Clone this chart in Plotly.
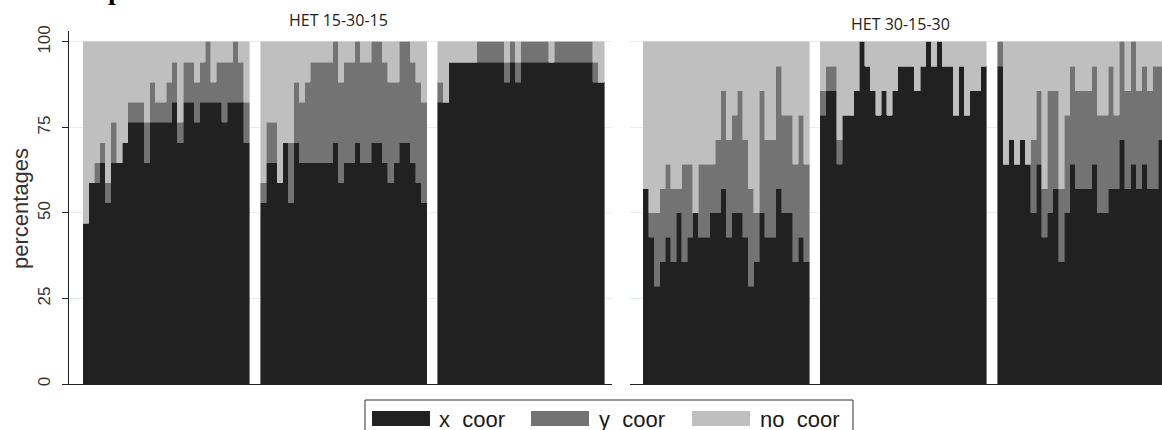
import plotly.graph_objects as go

W, H = 1162, 430

# ---------------- data (counts of groups per period) -------------
treatments = ["HET 15-30-15", "HET 30-15-30"]
group_size = [17, 14]          # number of groups in each treatment (denominator)
series_names = ["x  coor", "y  coor", "no  coor"]
series_colors = ["#212121", "#737373", "#bfbfbf"]
y_ticks = [0, 25, 50, 75, 100]
y_tick_text = ["0", "25", "50", "75", "100"]

# HET 15-30-15, three blocks of 30 periods
h1_b1_x = [8, 10, 10, 11, 9, 11, 11, 12, 13, 13, 13, 11, 13, 13, 13, 13, 14, 12, 14, 14, 13, 14, 14, 14, 14, 13, 14, 14, 14, 12]
h1_b1_y = [0, 0, 1, 1, 1, 2, 0, 0, 1, 1, 1, 2, 2, 1, 1, 2, 2, 1, 2, 2, 2, 2, 3, 1, 2, 3, 2, 3, 2, 2]
h1_b2_x = [9, 11, 11, 10, 12, 9, 12, 11, 11, 11, 11, 11, 11, 12, 10, 11, 11, 12, 11, 11, 12, 12, 11, 10, 11, 12, 12, 11, 10, 9]
h1_b2_y = [1, 2, 2, 0, 0, 3, 3, 3, 4, 5, 5, 5, 5, 5, 5, 5, 5, 5, 5, 5, 5, 5, 5, 5, 4, 5, 5, 5, 5, 5]
h1_b3_x = [14, 14, 16, 16, 16, 16, 16, 16, 16, 16, 16, 16, 15, 16, 15, 16, 16, 16, 16, 16, 16, 16, 16, 16, 16, 16, 16, 16, 15, 15]
h1_b3_y = [1, 0, 0, 0, 0, 0, 0, 1, 1, 1, 1, 1, 1, 1, 1, 1, 1, 1, 1, 1, 0, 1, 1, 1, 1, 1, 1, 1, 1, 0]

# HET 30-15-30
h2_b1_x = [8, 6, 4, 5, 6, 5, 7, 5, 6, 7, 6, 6, 7, 7, 8, 6, 7, 7, 6, 4, 5, 7, 6, 6, 8, 7, 7, 5, 6, 5]
h2_b1_y = [0, 1, 3, 3, 3, 3, 1, 4, 3, 0, 3, 3, 2, 3, 4, 4, 4, 5, 4, 4, 2, 5, 4, 4, 5, 4, 4, 4, 5, 4]
h2_b2_x = [11, 12, 12, 9, 11, 11, 12, 14, 13, 12, 11, 12, 11, 12, 13, 13, 13, 12, 13, 14, 13, 14, 13, 13, 11, 13, 11, 12, 12, 13]
h2_b2_y = [1, 1, 1, 1, 0, 0, 0, 0, 0, 0, 0, 0, 0, 0, 0, 0, 0, 0, 0, 0, 0, 0, 0, 0, 0, 0, 0, 0, 0, 0]
h2_b3_x = [13, 9, 10, 9, 10, 9, 7, 9, 6, 7, 8, 5, 7, 9, 8, 8, 8, 9, 7, 7, 8, 8, 10, 8, 9, 8, 9, 8, 8, 10]
h2_b3_y = [1, 0, 0, 0, 0, 0, 3, 3, 2, 5, 4, 3, 4, 4, 4, 4, 4, 4, 4, 4, 5, 3, 4, 4, 5, 4, 4, 4, 5, 3]

# ---------------- build figure -------------
BLOCK_STEP = 32   # 30 periods + 2 empty slots between blocks

def to_pct(counts, n):
    return [100.0 * c / n for c in counts]

panels = [
    ([h1_b1_x, h1_b2_x, h1_b3_x], [h1_b1_y, h1_b2_y, h1_b3_y]),
    ([h2_b1_x, h2_b2_x, h2_b3_x], [h2_b1_y, h2_b2_y, h2_b3_y]),
]

fig = go.Figure()
for p, (xs_blocks, ys_blocks) in enumerate(panels):
    n = group_size[p]
    pos, xc, yc, nc = [], [], [], []
    for b in range(3):
        for i in range(len(xs_blocks[b])):
            pos.append(BLOCK_STEP * b + i)
            xv, yv = xs_blocks[b][i], ys_blocks[b][i]
            xc.append(xv)
            yc.append(yv)
            nc.append(n - xv - yv)
    for s, vals in enumerate([xc, yc, nc]):
        fig.add_trace(go.Bar(
            x=pos, y=to_pct(vals, n), width=1.0,
            name=series_names[s],
            marker=dict(color=series_colors[s], line=dict(width=0.6, color=series_colors[s])),
            xaxis="x" if p == 0 else "x2", yaxis="y",
            showlegend=False, hoverinfo="skip",
        ))

axis_col = "#222222"
grid_col = "#e6eeee"
x_common = dict(showline=True, linecolor=axis_col, linewidth=1, showticklabels=False,
                ticks="", showgrid=False, zeroline=False, fixedrange=True, anchor="y",
                automargin=False)

fig.update_layout(
    width=W, height=H,
    margin=dict(l=0, r=0, t=0, b=0, pad=0, autoexpand=False),
    paper_bgcolor="white", plot_bgcolor="white",
    barmode="stack", bargap=0, showlegend=False,
    xaxis=dict(domain=[69 / W, 612 / W], range=[-3.08, 94.94], **x_common),
    xaxis2=dict(domain=[630 / W, 1.0], range=[-2.85, 93.18], **x_common),
    yaxis=dict(domain=[1 - 384 / H, 1 - 31 / H], range=[0, 103.2],
               tickvals=y_ticks, ticktext=y_tick_text, tickangle=-90,
               ticks="outside", ticklen=6, tickcolor=axis_col, tickwidth=1,
               showline=True, linecolor=axis_col, linewidth=1,
               showgrid=True, gridcolor=grid_col, gridwidth=1, zeroline=False,
               tickfont=dict(family="Liberation Sans, Arial, sans-serif", size=17, color="#333333"),
               ticklabelstandoff=5, fixedrange=True, automargin=False),
)

# y-axis title
fig.add_annotation(text="percentages", textangle=-90, xref="paper", yref="paper",
                   x=21 / W, y=1 - 209 / H, showarrow=False, xanchor="center", yanchor="middle",
                   font=dict(family="Liberation Sans, Arial, sans-serif", size=22, color="#333333"))

# panel titles
for txt, cx, cy in [(treatments[0], 338, 20), (treatments[1], 900, 24)]:
    fig.add_annotation(text=txt, xref="paper", yref="paper", x=cx / W, y=1 - cy / H,
                       showarrow=False, xanchor="center", yanchor="middle",
                       font=dict(family="Open Sans, Arial, sans-serif", size=16, color="#222222"))

# cropped figure title (only its lower part is visible at the top edge)
fig.add_annotation(text="<b>p</b>", xref="paper", yref="paper", x=116 / W, y=1 + 10 / H,
                   showarrow=False, xanchor="center", yanchor="middle",
                   font=dict(family="Liberation Serif, Times New Roman, serif", size=28, color="#000000"))

# legend (box with wide swatches, as in the reference)
fig.add_shape(type="rect", xref="paper", yref="paper", x0=365 / W, x1=853 / W,
              y0=-0.05, y1=1 - 400 / H, line=dict(color="#333333", width=1), fillcolor="white")
leg_sw_x = [372, 531, 692]
leg_tx_x = [437, 597, 758]
for s in range(3):
    fig.add_shape(type="rect", xref="paper", yref="paper",
                  x0=leg_sw_x[s] / W, x1=(leg_sw_x[s] + 58) / W,
                  y0=1 - 426 / H, y1=1 - 411 / H,
                  line=dict(width=0), fillcolor=series_colors[s])
    fig.add_annotation(text=series_names[s].replace(" ", "\u00a0"),
                       xref="paper", yref="paper", x=leg_tx_x[s] / W, y=1 - 419 / H,
                       showarrow=False, xanchor="left", yanchor="middle",
                       font=dict(family="Liberation Sans, Arial, sans-serif", size=22, color="#1a1a1a"))

fig.write_html("out.html", config={"displayModeBar": False, "staticPlot": True},
               post_script="document.body.style.margin='0';")
